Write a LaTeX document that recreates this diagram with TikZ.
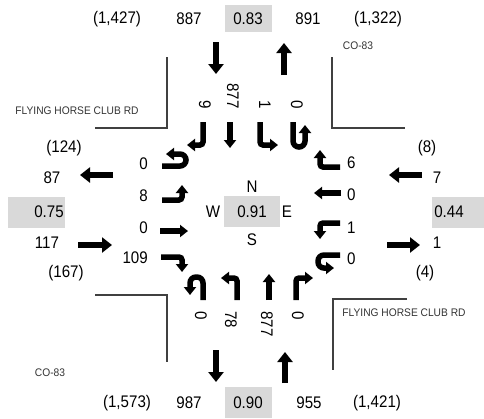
\documentclass[tikz,border=0pt]{standalone}
\usepackage{fontspec}
\usetikzlibrary{arrows.meta}
\newfontfamily\numfont{Liberation Sans}[FakeStretch=0.9]
\newfontfamily\smfont{Liberation Sans}[FakeStretch=0.93]
\tikzset{
  num/.style={font=\numfont\fontsize{16.8}{18}\selectfont, inner sep=0pt},
  sm/.style={font=\smfont\fontsize{11}{13}\selectfont, text=black!80, inner sep=0pt},
  gbox/.style={fill=gray!30, draw=none},
  bigarr/.style={line width=6.5pt, -{Triangle[width=15pt,length=10pt]}},
  turnarr/.style={line width=5.5pt, -{Triangle[width=12pt,length=8pt]}, rounded corners=3pt},
  uarr/.style={line width=5.5pt, -{Triangle[width=12pt,length=8pt]}, rounded corners=6pt},
  corner/.style={line width=1.8pt, draw=black!75}
}
\begin{document}
\begin{tikzpicture}[x=1pt,y=-1pt]
\useasboundingbox (0,0) rectangle (484,418);
% gray boxes
\fill[gbox] (225,5) rectangle (272,32);
\fill[gbox] (8,197) rectangle (65,228);
\fill[gbox] (432,197) rectangle (484,228);
\fill[gbox] (224,196) rectangle (280,227);
\fill[gbox] (225,387) rectangle (272,418);
% corners
\draw[corner] (167,57) -- (167,128) -- (95,128);
\draw[corner] (332,57) -- (332,128) -- (405,128);
\draw[corner] (95,295) -- (167,295) -- (167,362);
\draw[corner] (407,299) -- (333,299) -- (333,370);
% road names
\node[sm] (co1) at (358,46) {CO-83};
\node[sm] (co2) at (50,373) {CO-83};
\node[sm] (fh1) at (77,111) {FLYING HORSE CLUB RD};
\node[sm] (fh2) at (404,313) {FLYING HORSE CLUB RD};
% top labels
\node[num] (t1) at (117,19) {(1,427)};
\node[num] (t2) at (189,19) {887};
\node[num] (t3) at (248,19) {0.83};
\node[num] (t4) at (308,19) {891};
\node[num] (t5) at (378,19) {(1,322)};
% bottom labels
\node[num] (b1) at (127,403) {(1,573)};
\node[num] (b2) at (189,403) {987};
\node[num] (b3) at (248,403) {0.90};
\node[num] (b4) at (309,403) {955};
\node[num] (b5) at (377,403) {(1,421)};
% left labels
\node[num] (l1) at (64,148) {(124)};
\node[num] (l2) at (52,178) {87};
\node[num] (l3) at (49,212) {0.75};
\node[num] (l4) at (47,243) {117};
\node[num] (l5) at (66,273) {(167)};
% right labels
\node[num] (r1) at (427,148) {(8)};
\node[num] (r2) at (437,178) {7};
\node[num] (r3) at (449,212) {0.44};
\node[num] (r4) at (437,243) {1};
\node[num] (r5) at (425,273) {(4)};
% center
\node[num] (cn) at (252,187) {N};
\node[num] (cc) at (252,212) {0.91};
\node[num] (cw) at (213,212) {W};
\node[num] (ce) at (287,212) {E};
\node[num] (cs) at (252,240) {S};
% big arrows
\draw[bigarr] (216,42) -- (216,74);
\draw[bigarr] (284,75) -- (284,43);
\draw[bigarr] (216,350) -- (216,382);
\draw[bigarr] (285,383) -- (285,352);
\draw[bigarr] (113,175) -- (80,175);
\draw[bigarr] (78,245) -- (112,245);
\draw[bigarr] (422,175) -- (389,175);
\draw[bigarr] (387,245) -- (420,245);
% southbound lane labels
\node[num, rotate=-90, anchor=east] (sb1) at (205,109) {9};
\node[num, rotate=-90, anchor=east] (sb2) at (233,109) {877};
\node[num, rotate=-90, anchor=east] (sb3) at (265,109) {1};
\node[num, rotate=-90, anchor=east] (sb4) at (297,109) {0};
% southbound arrows
\draw[turnarr] (203,122) -- (203,145) -- (187,145);
\draw[turnarr] (230,122) -- (230,148);
\draw[turnarr] (260,122) -- (260,145) -- (278,145);
\draw[uarr] (293,122) -- (293,147) -- (305,147) -- (305,125);
% northbound lane labels
\node[num, rotate=-90, anchor=west] (nb1) at (201,311) {0};
\node[num, rotate=-90, anchor=west] (nb2) at (231,311) {78};
\node[num, rotate=-90, anchor=west] (nb3) at (267,311) {877};
\node[num, rotate=-90, anchor=west] (nb4) at (298,311) {0};
% northbound arrows
\draw[uarr] (203,300) -- (203,277) -- (190,277) -- (190,295);
\draw[turnarr] (237,300) -- (237,278) -- (221,278);
\draw[turnarr] (269,300) -- (269,274);
\draw[turnarr] (296,300) -- (296,278) -- (313,278);
% eastbound lane labels
\node[num, anchor=east] (eb1) at (148,164) {0};
\node[num, anchor=east] (eb2) at (148,196) {8};
\node[num, anchor=east] (eb3) at (148,228) {0};
\node[num, anchor=east] (eb4) at (148,258) {109};
% eastbound arrows
\draw[uarr] (162,166) -- (186,166) -- (186,154) -- (166,154);
\draw[turnarr] (162,200) -- (182,200) -- (182,185);
\draw[turnarr] (160,231) -- (188,231);
\draw[turnarr] (161,257) -- (182,257) -- (182,272);
% westbound lane labels
\node[num, anchor=west] (wb1) at (347,163) {6};
\node[num, anchor=west] (wb2) at (347,195) {0};
\node[num, anchor=west] (wb3) at (347,228) {1};
\node[num, anchor=west] (wb4) at (347,259) {0};
% westbound arrows
\draw[turnarr] (340,167) -- (320,167) -- (320,150);
\draw[turnarr] (341,193) -- (314,193);
\draw[turnarr] (340,223) -- (320,223) -- (320,239);
\draw[uarr] (340,255) -- (318,255) -- (318,268) -- (334,268);
\end{tikzpicture}
\end{document}
